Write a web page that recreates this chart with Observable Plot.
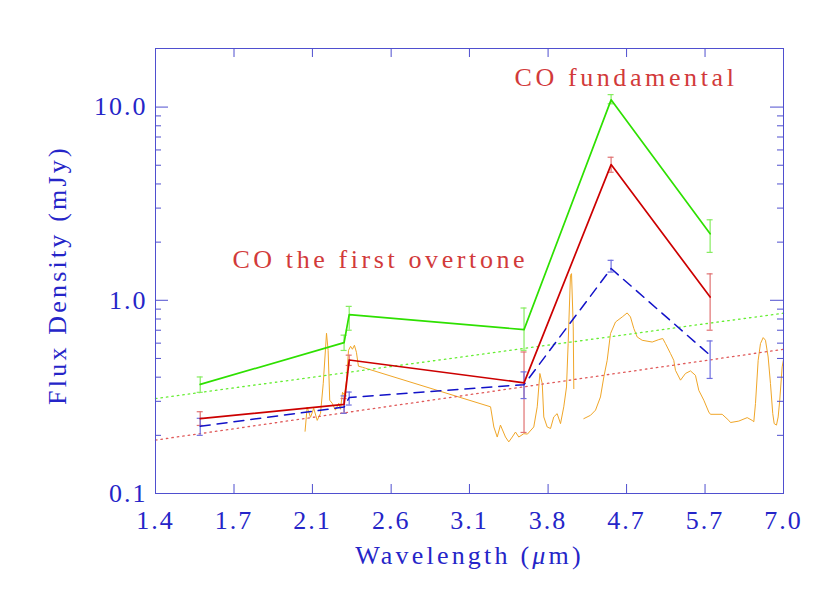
<!DOCTYPE html>
<html><head><meta charset="utf-8">
<script src="https://cdn.jsdelivr.net/npm/d3@7"></script>
<script src="https://cdn.jsdelivr.net/npm/@observablehq/plot@0.6"></script>
<style>body{margin:0;background:#fff}#chart svg{display:block}#chart text{font-family:"Liberation Serif",serif}</style>
</head><body><div id="chart"></div>
<script>
// ---- data ----
const bandWave = [1.57, 2.27, 2.30, 3.6, 4.5, 5.8];
const greenFlux = [0.367, 0.604, 0.843, 0.705, 10.9, 2.21];
const greenLo   = [0.334, 0.55, 0.70, 0.551, 10.4, 1.77];
const greenHi   = [0.401, 0.66, 0.93, 0.912, 11.6, 2.61];
const redFlux = [0.244, 0.289, 0.491, 0.374, 5.04, 1.04];
const redLo   = [0.225, 0.26, 0.46, 0.207, 4.6, 0.70];
const redHi   = [0.265, 0.31, 0.52, 0.54, 5.5, 1.37];
const blueFlux = [0.223, 0.28, 0.314, 0.366, 1.46, 0.519];
const blueLo   = [0.20, 0.26, 0.287, 0.31, 1.40, 0.394];
const blueHi   = [0.245, 0.32, 0.335, 0.426, 1.61, 0.616];

const fitWave = [1.4, 7.0];
const greenFit = [0.310, 0.858];
const redFit = [0.189, 0.558];

const specAWave = [2.054,2.065,2.083,2.100,2.119,2.137,2.152,2.170,2.179,2.188,2.202,2.220,2.239,2.249,2.261,2.272,2.284,2.296,2.308,2.319,2.331,2.343,2.355,2.380,2.398,3.304,3.332,3.361,3.389,3.433,3.462,3.493,3.522,3.552,3.598,3.632,3.691,3.724,3.749,3.772,3.787,3.820,3.853,3.885,3.919,3.953,3.986,4.014,4.031,4.055,4.066,4.084,4.090];
const specAFlux = [0.210,0.280,0.248,0.276,0.239,0.260,0.372,0.675,0.551,0.304,0.293,0.270,0.293,0.273,0.334,0.323,0.386,0.551,0.578,0.558,0.585,0.538,0.456,0.450,0.445,0.281,0.221,0.196,0.226,0.196,0.185,0.196,0.208,0.196,0.204,0.203,0.221,0.281,0.418,0.371,0.249,0.221,0.217,0.249,0.259,0.230,0.281,0.356,0.597,1.347,1.374,0.728,0.349];
const specBWave = [4.196,4.269,4.324,4.379,4.417,4.455,4.493,4.551,4.630,4.689,4.729,4.770,4.811,4.873,5.000,5.085,5.137,5.173,5.240,5.284,5.307,5.376,5.445,5.515,5.586,5.634,5.707,5.780,5.805,5.982,6.084,6.111,6.242,6.378,6.460,6.487,6.515,6.560,6.599,6.645,6.684,6.730,6.770,6.810,6.835,6.875,6.905,6.933,6.976,7.0];
const specBFlux = [0.244,0.254,0.270,0.316,0.401,0.489,0.672,0.772,0.820,0.860,0.820,0.714,0.646,0.621,0.608,0.626,0.634,0.597,0.530,0.489,0.434,0.386,0.418,0.431,0.409,0.342,0.304,0.264,0.257,0.257,0.239,0.233,0.237,0.247,0.239,0.235,0.292,0.489,0.597,0.641,0.621,0.509,0.371,0.259,0.230,0.226,0.249,0.304,0.452,0.493];

const xTicks = [1.4, 1.712, 2.093, 2.561, 3.130, 3.829, 4.682, 5.725, 7.0];
const yTicks = [0.1, 1, 10];
const yMinor = [0.2,0.3,0.4,0.5,0.6,0.7,0.8,0.9,2,3,4,5,6,7,8,9];

const xTitle = "Wavelength (μm)";
const yTitle = "Flux Density (mJy)";
const annoText = ["CO fundamental", "CO the first overtone"];
const annoWave = [3.513, 1.705];
const annoFlux = [12.8, 1.464];

// ---- layout ----
const W = 830, H = 593, mL = 155, mR = 47, mT = 48, mB = 100;
const pW = W - mL - mR, pH = H - mT - mB;
const axisCol = "#4f4fcf", textCol = "#2525c8";
const serif = "'Liberation Serif', serif";

const rows = (ys, lo, hi) => bandWave.map((x, i) => ({x, y: ys[i], lo: lo[i], hi: hi[i]}));
const green = rows(greenFlux, greenLo, greenHi);
const red = rows(redFlux, redLo, redHi);
const blue = rows(blueFlux, blueLo, blueHi);
const pts = (xs, ys) => xs.map((x, i) => ({x, y: ys[i]}));

function errMarks(data, color) {
  return [
    Plot.ruleX(data, {x: "x", y1: "lo", y2: "hi", stroke: color, strokeWidth: 1.2}),
    Plot.ruleY(data, {y: "lo", x1: "x", x2: "x", insetLeft: -3, insetRight: -3, stroke: color, strokeWidth: 1.2}),
    Plot.ruleY(data, {y: "hi", x1: "x", x2: "x", insetLeft: -3, insetRight: -3, stroke: color, strokeWidth: 1.2})
  ];
}

const chart = Plot.plot({
  width: W, height: H,
  marginLeft: mL, marginRight: mR, marginTop: mT, marginBottom: mB,
  style: {fontFamily: serif, fontSize: "26px", color: textCol, background: "#fff"},
  x: {type: "log", domain: [1.4, 7.0], axis: null},
  y: {type: "log", domain: [0.1, 20.1], axis: null},
  marks: [
    // spectrum
    Plot.line(pts(specAWave, specAFlux), {x: "x", y: "y", stroke: "#f0a628", strokeWidth: 1}),
    Plot.line(pts(specBWave, specBFlux), {x: "x", y: "y", stroke: "#f0a628", strokeWidth: 1}),
    // fits
    Plot.line(pts(fitWave, greenFit), {x: "x", y: "y", stroke: "#66ee33", strokeWidth: 1.3, strokeDasharray: "1.5,4"}),
    Plot.line(pts(fitWave, redFit), {x: "x", y: "y", stroke: "#e05a5a", strokeWidth: 1.3, strokeDasharray: "1.5,4"}),
    // error bars
    ...errMarks(green, "#86ec60"),
    ...errMarks(red, "#e07272"),
    ...errMarks(blue, "#6f6fe0"),
    // photometry lines
    Plot.line(blue, {x: "x", y: "y", stroke: "#1212c8", strokeWidth: 1.5, strokeDasharray: "10,7"}),
    Plot.line(red, {x: "x", y: "y", stroke: "#cc0000", strokeWidth: 1.7}),
    Plot.line(green, {x: "x", y: "y", stroke: "#2ee000", strokeWidth: 1.7}),
    // frame and ticks
    Plot.frame({stroke: axisCol, strokeWidth: 1}),
    Plot.tickY(yTicks, {y: d => d, insetRight: pW - 13, stroke: axisCol}),
    Plot.tickY(yTicks, {y: d => d, insetLeft: pW - 13, stroke: axisCol}),
    Plot.tickY(yMinor, {y: d => d, insetRight: pW - 6, stroke: axisCol}),
    Plot.tickY(yMinor, {y: d => d, insetLeft: pW - 6, stroke: axisCol}),
    Plot.tickX(xTicks, {x: d => d, insetTop: pH - 9, stroke: axisCol}),
    Plot.tickX(xTicks, {x: d => d, insetBottom: pH - 9, stroke: axisCol}),
    Plot.axisX({ticks: xTicks, tickFormat: d => d.toFixed(1), tickSize: 0, tickPadding: 17, label: null, fill: textCol, fontFamily: serif}),
    Plot.axisY({ticks: yTicks, tickFormat: d => d.toFixed(1), tickSize: 0, tickPadding: 8, label: null, fill: textCol, fontFamily: serif}),
    // axis titles
    Plot.text([xTitle], {frameAnchor: "bottom", dy: 70, lineAnchor: "bottom", textAnchor: "middle", fill: textCol, fontFamily: serif, text: d => d}),
    Plot.text([yTitle], {frameAnchor: "left", dx: -90, dy: 4, rotate: -90, lineAnchor: "bottom", textAnchor: "middle", fill: textCol, fontFamily: serif, text: d => d}),
    // annotations
    Plot.text(annoText.map((t, i) => ({t, x: annoWave[i], y: annoFlux[i]})), {x: "x", y: "y", text: "t", textAnchor: "start", lineAnchor: "bottom", fill: "#d23a3a", fontFamily: serif})
  ]
});

chart.querySelectorAll("text").forEach(el => {
  const t = el.textContent;
  let ls = "2px";
  if (t === xTitle || t === yTitle) ls = "3.2px";
  else if (annoText.includes(t)) ls = "3.6px";
  el.setAttribute("letter-spacing", ls);
  el.style.letterSpacing = ls;
  el.setAttribute("font-family", serif);
  if (t === xTitle) {
    const [a, b] = t.split("μ");
    const el2 = d3.select(el);
    el2.text(null);
    el2.append("tspan").text(a);
    el2.append("tspan").attr("font-style", "italic").text("μ");
    el2.append("tspan").text(b);
  }
});
document.getElementById("chart").appendChild(chart);
</script>
</body></html>
